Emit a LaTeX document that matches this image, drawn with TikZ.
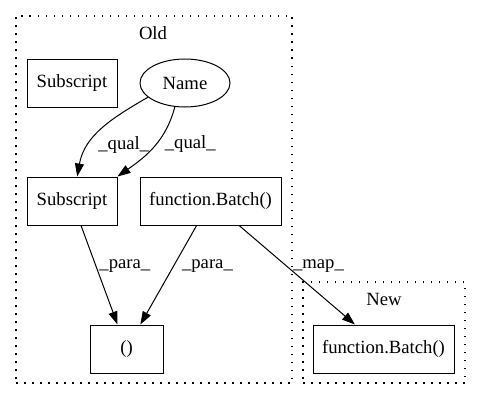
\documentclass[tikz,border=0pt]{standalone}
\usepackage{fontspec}
\setmainfont{Liberation Serif}
\usetikzlibrary{positioning,calc,arrows.meta,shapes.geometric}

\begin{document}
\begin{tikzpicture}[
  x=1pt, y=1pt,
  font=\fontsize{18.67}{22}\selectfont,
  box/.style={
    draw, rectangle, line width=1pt, inner sep=0pt,
    minimum width=90pt, minimum height=48pt
  },
  oval/.style={
    draw, ellipse, line width=1pt, inner sep=0pt,
    minimum width=90pt, minimum height=48pt
  },
  cluster/.style={
    draw, rectangle, line width=1.3pt, inner sep=0pt,
    dash pattern=on 1.5pt off 6.5pt
  },
  arr/.style={-{Triangle[length=13pt,width=9pt]}, line width=1pt},
  lbl/.style={inner sep=0pt},
]
\useasboundingbox (0,0) rectangle (481,400);

%% --- Clusters --------------------------------------------------------
\node[cluster, minimum width=276pt, minimum height=367pt] (old) at (154,200.5) {};
\node (oldlbl) at (153,367) {Old};

\node[cluster, minimum width=162pt, minimum height=101pt] (new) at (384,67.5) {};
\node (newlbl) at (384,101) {New};

%% --- Old nodes -------------------------------------------------------
\node[box]  (sub1)  at (72,317)    {Subscript};
\node[oval] (name)  at (185,317)   {Name};
\node[box]  (sub2)  at (72,199)    {Subscript};
\node[box, minimum width=141pt] (batch) at (210.5,199) {function.Batch()};
\node[box, minimum width=73pt]  (call)  at (126.5,51)  {()};

%% --- New nodes -------------------------------------------------------
\node[box, minimum width=141pt] (batchnew) at (383.5,51) {function.Batch()};

%% --- Edges -----------------------------------------------------------
\draw[arr] (name.201) to[out=210, in=80]
  node[lbl, pos=0.7, anchor=west, xshift=9pt] {\_qual\_} (sub2.78);
\draw[arr] (name.247) to[out=255, in=35]
  node[lbl, pos=0.45, anchor=west, xshift=8pt] {\_qual\_} (sub2.north east);

\draw[arr] (sub2) -- node[lbl, pos=0.41, anchor=west, xshift=3pt] {\_para\_} (call);
\draw[arr] (batch) -- node[lbl, pos=0.41, anchor=west, xshift=8pt] {\_para\_} (call);
\draw[arr] (batch) -- node[lbl, pos=0.41, anchor=west, xshift=6pt] {\_map\_} (batchnew);

\end{tikzpicture}
\end{document}
